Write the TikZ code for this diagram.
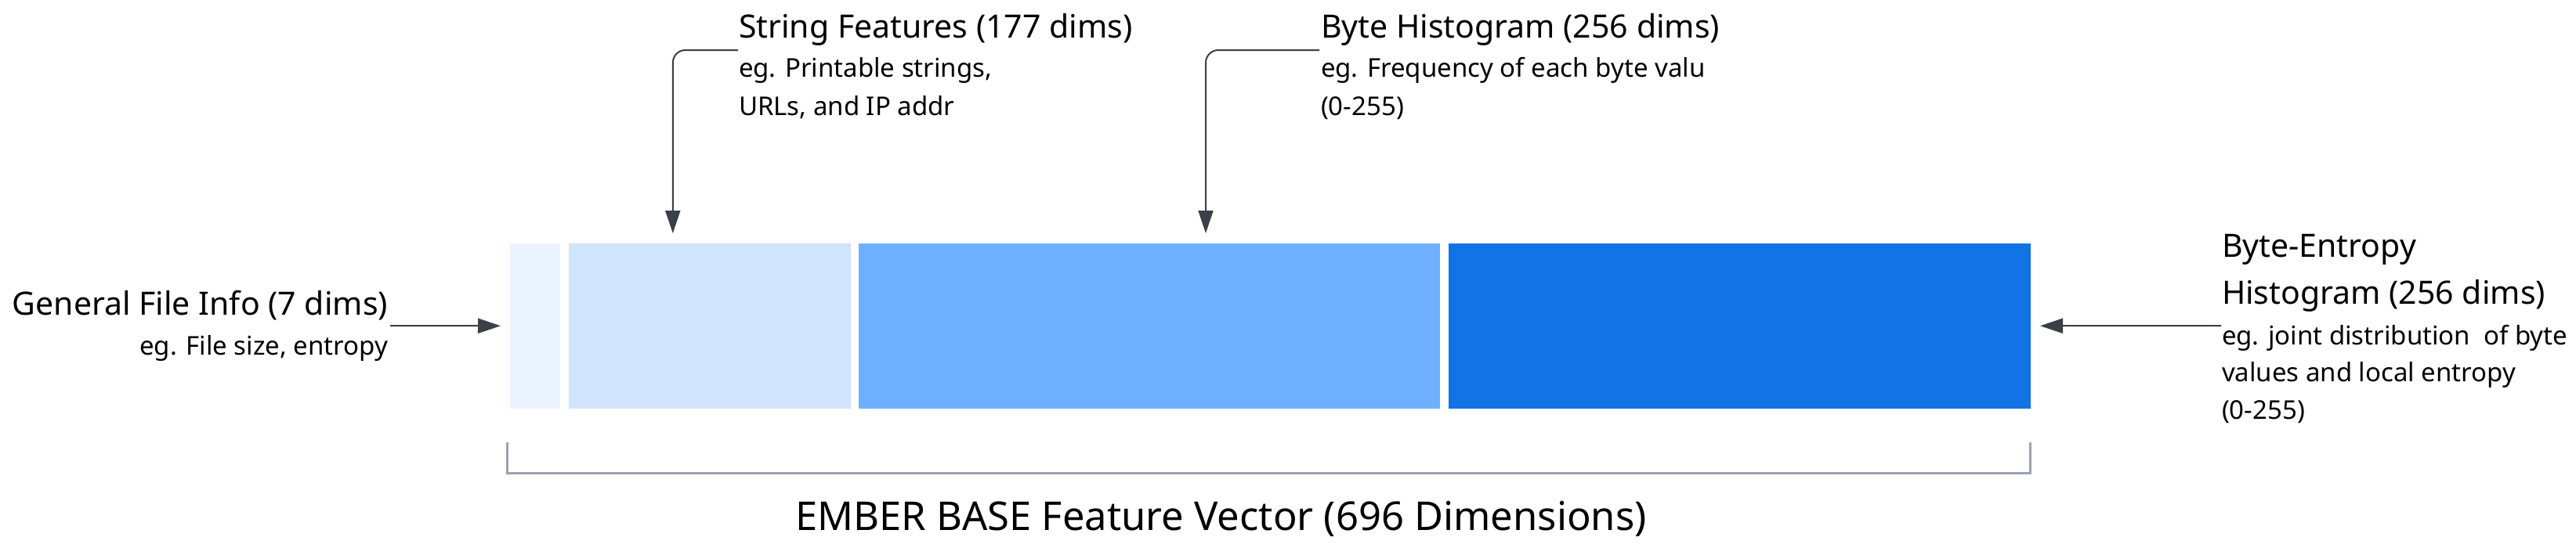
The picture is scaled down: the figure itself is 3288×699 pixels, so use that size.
\documentclass[tikz,border=0pt]{standalone}
\usepackage{fontspec}
\setmainfont{Noto Sans}
\usetikzlibrary{arrows.meta,calc}
\definecolor{segA}{HTML}{EBF4FF}
\definecolor{segB}{HTML}{D0E4FE}
\definecolor{segC}{HTML}{6EB0FF}
\definecolor{segD}{HTML}{1273E4}
\definecolor{connc}{HTML}{3B4048}
\definecolor{brackc}{HTML}{9CA3AF}
\tikzset{
  seg/.style={draw=none, inner sep=0, outer sep=0, anchor=north west, minimum height=210.5pt},
  ttl/.style={inner sep=0, outer sep=0, anchor=base west, font=\fontsize{41}{59}\selectfont},
  dsc/.style={inner sep=0, outer sep=0, anchor=base west, font=\fontsize{33}{48}\selectfont},
  conn/.style={draw=connc, line width=2pt, -{Triangle[length=29pt, width=19pt]}},
  brack/.style={draw=brackc, line width=3pt}
}
\begin{document}
\begin{tikzpicture}[x=1pt, y=-1pt]
\useasboundingbox[fill=white] (0,0) rectangle (3288,699);
% segments
\node[seg, fill=segA, minimum width=63.5pt]  (r1) at (651.4,311) {};
\node[seg, fill=segB, minimum width=359.6pt] (r2) at (726.4,311) {};
\node[seg, fill=segC, minimum width=742pt]   (r3) at (1096,311) {};
\node[seg, fill=segD, minimum width=743pt]   (r4) at (1849,311) {};
% labels
\node[ttl, anchor=base east] (gfT) at (495,402) {General File Info (7 dims)};
\node[dsc, anchor=base east] (gfD) at (495,453) {eg. File size, entropy};
\node[ttl] (sfT)  at (943,48)  {String Features (177 dims)};
\node[dsc] (sfD1) at (943,98)  {eg. Printable strings,};
\node[dsc] (sfD2) at (943,147) {URLs, and IP addr};
\node[ttl] (bhT)  at (1686,48)  {Byte Histogram (256 dims)};
\node[dsc] (bhD1) at (1686,98)  {eg. Frequency of each byte valu};
\node[dsc] (bhD2) at (1686,147) {(0-255)};
\node[ttl] (beT1) at (2836,328) {Byte-Entropy};
\node[ttl] (beT2) at (2836,388) {Histogram (256 dims)};
\node[dsc] (beD1) at (2836,440) {eg. joint distribution\ \ of byte};
\node[dsc] (beD2) at (2836,487) {values and local entropy};
\node[dsc] (beD3) at (2836,535) {(0-255)};
\node[inner sep=0, anchor=base west, font=\fontsize{50.7}{60}\selectfont] (vecT) at (1015,677) {EMBER BASE Feature Vector (696 Dimensions)};
% connectors
\draw[conn] ([shift={(3,14)}]gfT.base east) -- ([shift={(-12.4,0)}]r1.west);
\draw[conn, rounded corners=16pt] ([shift={(-1,16)}]sfT.base west) -| ([shift={(132.4,-13)}]r2.north west);
\draw[conn, rounded corners=16pt] ([shift={(-2,16)}]bhT.base west) -| ([shift={(443,-13)}]r3.north west);
\draw[conn] ([shift={(-1,-24)}]beD1.base west) -- ([shift={(12,0)}]r4.east);
% bracket
\draw[brack] (647,565) -- (647,604) -- (2591,604) -- (2591,565);
\end{tikzpicture}
\end{document}
